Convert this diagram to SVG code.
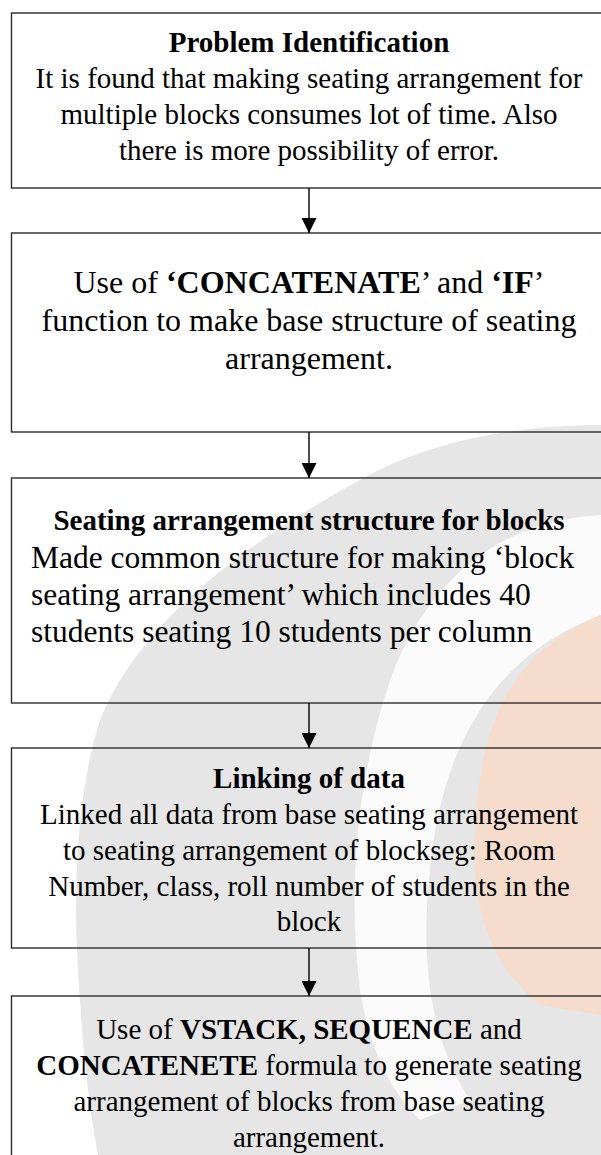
<svg xmlns="http://www.w3.org/2000/svg" width="601" height="1155" viewBox="0 0 601 1155">
<style>
.box{fill:none;stroke:#2b2b2b;stroke-width:1.4}
.t{font-family:"Liberation Serif","Times New Roman",serif;font-size:29px;fill:#000;text-anchor:middle}
.big{font-size:32px}
.b{font-weight:bold}
.conn line{stroke:#000;stroke-width:1.4}
</style>
<defs>
<marker id="ah" viewBox="0 0 15 15" refX="15" refY="7.5" markerWidth="15" markerHeight="15" markerUnits="userSpaceOnUse" orient="auto">
<path d="M0 0 L15 7.5 L0 15 Z" fill="#000"/>
</marker>
</defs>
<rect width="601" height="1155" fill="#fff"/>
<g id="watermark">
<path d="M601 425 C520 425 430 440 360 480 C250 540 140 620 100 720 C75 800 72 900 80 1000 C85 1080 92 1120 98 1155 L601 1155 Z" fill="#e6e6e6"/>
<path d="M601 515 C505 520 430 575 392 675 C357 775 347 885 360 990 C370 1050 390 1090 420 1120 L470 1100 C430 1040 420 960 430 870 C440 765 480 660 601 615 Z" fill="#fbfbfb"/>
<path d="M601 615 C505 655 480 730 475 830 C470 905 490 965 540 1005 L601 1015 Z" fill="#f5dccd"/>
</g>
<g id="n1">
<rect class="box" x="11.5" y="13" width="596" height="175"/>
<text class="t"><tspan class="b" x="309" y="52">Problem Identification</tspan><tspan x="309" y="88">It is found that making seating arrangement for</tspan><tspan x="309" y="124">multiple blocks consumes lot of time. Also</tspan><tspan x="309" y="160">there is more possibility of error.</tspan></text>
</g>
<g id="n2">
<rect class="box" x="11.5" y="233" width="596" height="199"/>
<text class="t big"><tspan x="309" y="293">Use of <tspan class="b">‘CONCATENATE</tspan>’ and <tspan class="b">‘IF</tspan>’</tspan><tspan x="309" y="331">function to make base structure of seating</tspan><tspan x="309" y="369">arrangement.</tspan></text>
</g>
<g id="n3">
<rect class="box" x="11.5" y="478" width="596" height="225"/>
<text class="t b" x="309" y="530">Seating arrangement structure for blocks</text>
<text class="t big" style="text-anchor:start;font-size:31.5px"><tspan x="31" y="568">Made common structure for making ‘block</tspan><tspan x="31" y="605">seating arrangement’ which includes 40</tspan><tspan x="31" y="642">students seating 10 students per column</tspan></text>
</g>
<g id="n4">
<rect class="box" x="11.5" y="748" width="596" height="200"/>
<text class="t"><tspan class="b" x="309" y="788">Linking of data</tspan><tspan x="309" y="824">Linked all data from base seating arrangement</tspan><tspan x="309" y="860">to seating arrangement of blockseg: Room</tspan><tspan x="309" y="896">Number, class, roll number of students in the</tspan><tspan x="309" y="931">block</tspan></text>
</g>
<g id="n5">
<rect class="box" x="11.5" y="996" width="596" height="200"/>
<text class="t"><tspan x="309" y="1039">Use of <tspan class="b">VSTACK, SEQUENCE</tspan> and</tspan><tspan x="309" y="1075"><tspan class="b">CONCATENETE</tspan> formula to generate seating</tspan><tspan x="309" y="1111">arrangement of blocks from base seating</tspan><tspan x="309" y="1147">arrangement.</tspan></text>
</g>
<g class="conn" id="connectors">
<line x1="309" y1="188" x2="309" y2="233" marker-end="url(#ah)"/>
<line x1="309" y1="432" x2="309" y2="478" marker-end="url(#ah)"/>
<line x1="309" y1="703" x2="309" y2="748" marker-end="url(#ah)"/>
<line x1="309" y1="948" x2="309" y2="996" marker-end="url(#ah)"/>
</g>
</svg>
